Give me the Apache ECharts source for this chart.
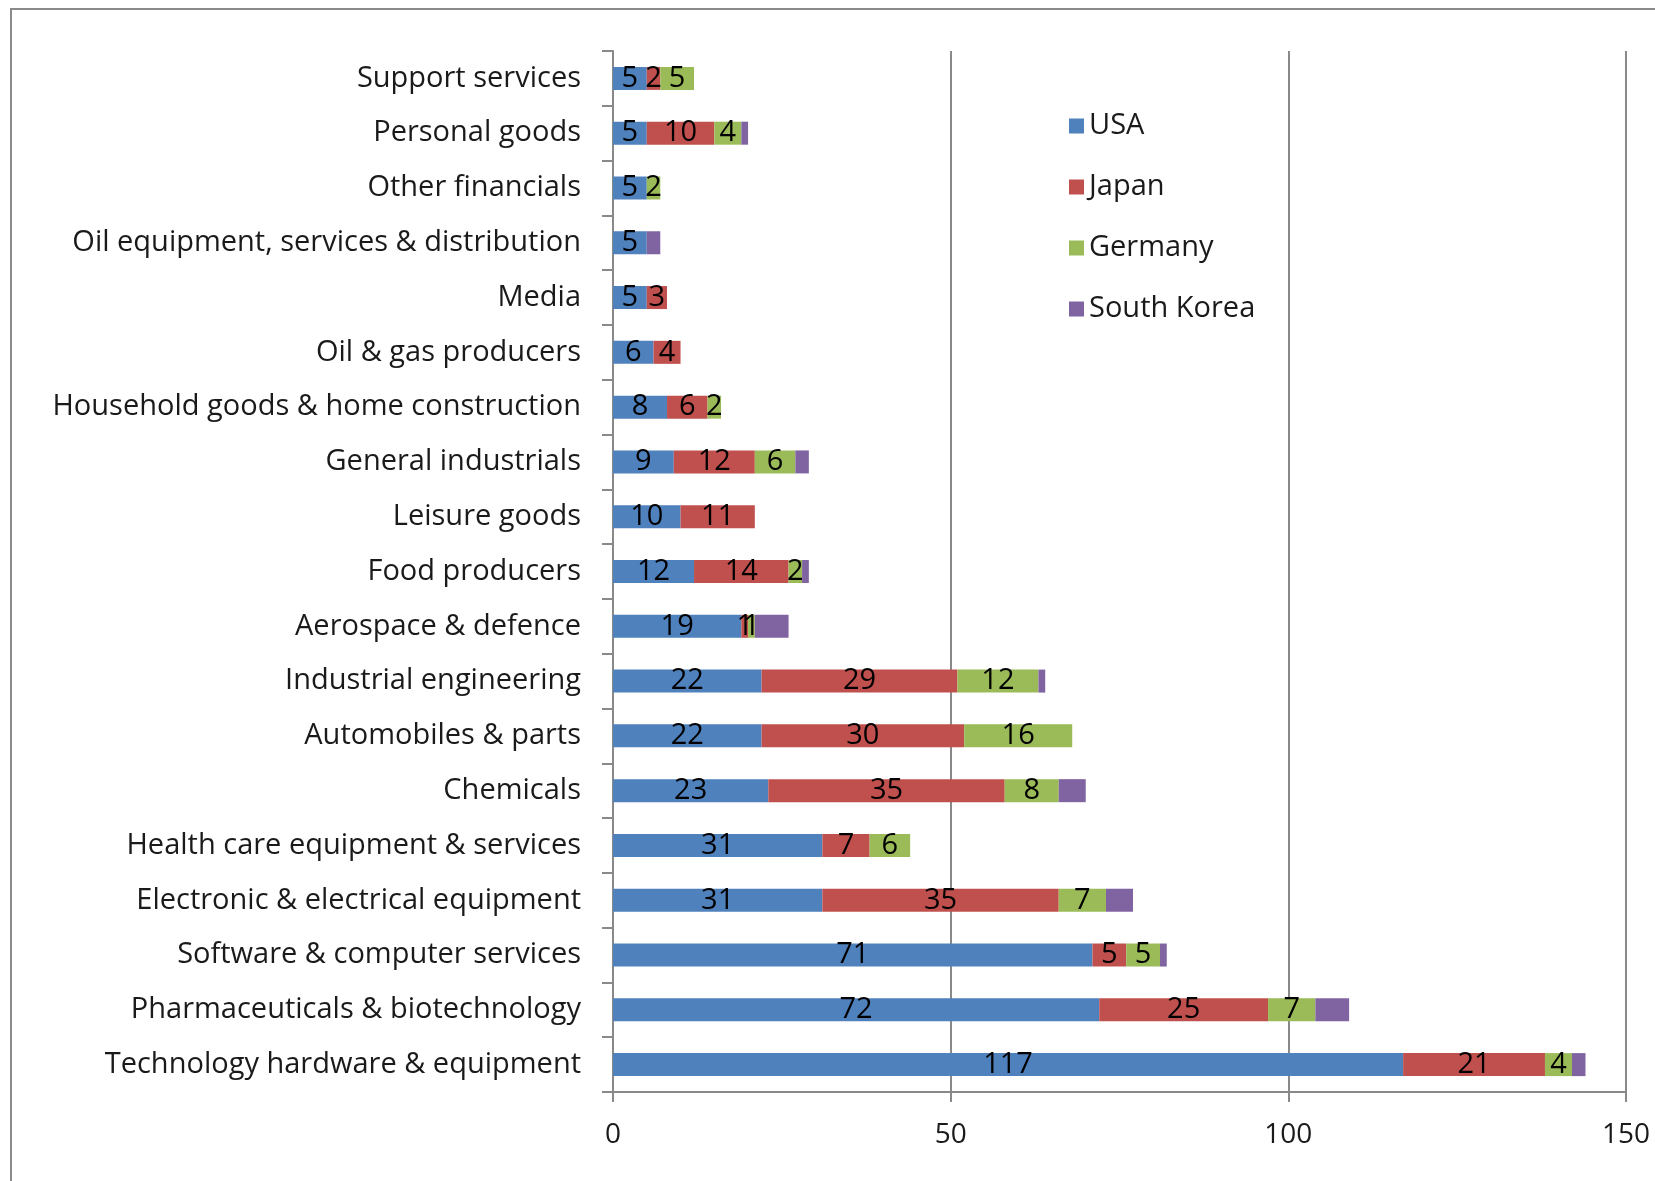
<!DOCTYPE html>
<html>
<head>
<meta charset="utf-8">
<script src="https://cdn.jsdelivr.net/npm/echarts@6/dist/echarts.min.js"></script>
<style>
  html, body { margin: 0; padding: 0; background: #fff; }
  #main { width: 1655px; height: 1181px; }
</style>
</head>
<body>
<div id="main"></div>
<script>
// categories, top to bottom
var categories = [
  'Support services', 'Personal goods', 'Other financials',
  'Oil equipment, services & distribution', 'Media', 'Oil & gas producers',
  'Household goods & home construction', 'General industrials', 'Leisure goods',
  'Food producers', 'Aerospace & defence', 'Industrial engineering',
  'Automobiles & parts', 'Chemicals', 'Health care equipment & services',
  'Electronic & electrical equipment', 'Software & computer services',
  'Pharmaceuticals & biotechnology', 'Technology hardware & equipment'
];
var usa        = [5, 5, 5, 5, 5, 6, 8, 9, 10, 12, 19, 22, 22, 23, 31, 31, 71, 72, 117];
var japan      = [2, 10, 0, 0, 3, 4, 6, 12, 11, 14, 1, 29, 30, 35, 7, 35, 5, 25, 21];
var germany    = [5, 4, 2, 0, 0, 0, 2, 6, 0, 2, 1, 12, 16, 8, 6, 7, 5, 7, 4];
var southKorea = [0, 1, 0, 2, 0, 0, 0, 2, 0, 1, 5, 1, 0, 4, 0, 4, 1, 5, 2];
var xTicks = [0, 50, 100, 150];

var font = '"Open Sans", sans-serif';
var gray = '#898989';

function seriesOf(name, data, color, showLabel) {
  return {
    name: name,
    type: 'bar',
    stack: 'total',
    barWidth: 23,
    data: data,
    itemStyle: { color: color },
    label: {
      show: showLabel,
      position: 'inside',
      color: '#000',
      fontFamily: font,
      fontSize: 29,
      formatter: function (p) { return p.value ? p.value : ''; }
    }
  };
}

var chart = echarts.init(document.getElementById('main'));
chart.setOption({
  animation: false,
  textStyle: { fontFamily: font },
  graphic: [{
    type: 'rect',
    shape: { x: 11, y: 9, width: 1700, height: 1300 },
    style: { fill: 'none', stroke: '#8a8a8a', lineWidth: 2 },
    silent: true
  }],
  grid: { left: 613, right: 29, top: 51, bottom: 89, containLabel: false },
  legend: {
    orient: 'vertical',
    left: 1064,
    top: 106,
    itemWidth: 15,
    itemHeight: 15,
    itemGap: 31,
    icon: 'rect',
    textStyle: { fontFamily: font, fontSize: 29, color: '#1a1a1a', lineHeight: 30 },
    data: ['USA', 'Japan', 'Germany', 'South Korea']
  },
  xAxis: {
    type: 'value',
    min: xTicks[0],
    max: xTicks[xTicks.length - 1],
    interval: xTicks[1] - xTicks[0],
    axisLine: { show: true, lineStyle: { color: gray, width: 2 } },
    axisTick: { show: true, length: 10, lineStyle: { color: gray, width: 2 } },
    splitLine: { show: true, lineStyle: { color: gray, width: 2 } },
    axisLabel: { color: '#1a1a1a', fontSize: 28, fontFamily: font, margin: 29 }
  },
  yAxis: {
    type: 'category',
    inverse: true,
    data: categories,
    axisLine: { show: true, lineStyle: { color: gray, width: 2 } },
    axisTick: { show: true, length: 11, interval: 0, lineStyle: { color: gray, width: 2 } },
    axisLabel: { color: '#1a1a1a', fontSize: 29, fontFamily: font, margin: 32, interval: 0 }
  },
  series: [
    seriesOf('USA', usa, '#4F81BD', true),
    seriesOf('Japan', japan, '#C0504D', true),
    seriesOf('Germany', germany, '#9BBB59', true),
    seriesOf('South Korea', southKorea, '#8064A2', false)
  ]
});
</script>
</body>
</html>
